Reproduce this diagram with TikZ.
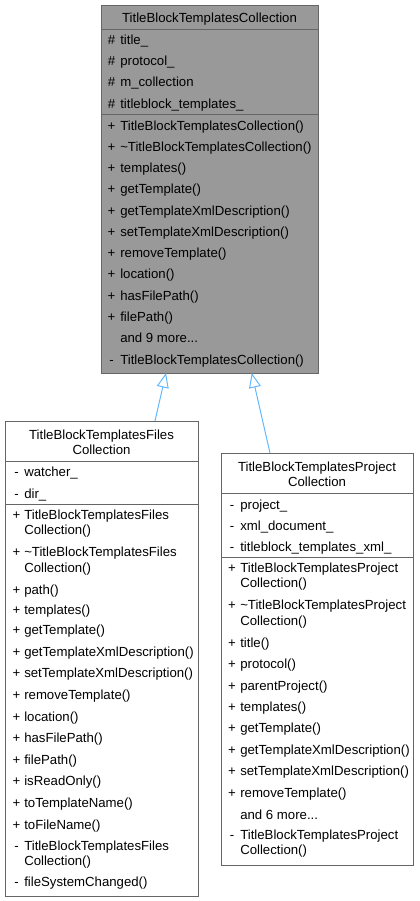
\documentclass[tikz,border=0pt]{standalone}
\usepackage{fontspec}
\setmainfont{Liberation Sans}
\usetikzlibrary{arrows.meta}
\definecolor{basefill}{HTML}{999999}
\definecolor{boxline}{HTML}{666666}
\definecolor{inheritblue}{HTML}{63B8FF}
\newcommand\etcdots{...}

\begin{document}
\begin{tikzpicture}[x=0.75pt,y=-0.75pt,
    font=\fontsize{9.9}{11.5}\selectfont,
    classbox/.style={draw=boxline, line width=0.75pt, anchor=north west, inner sep=0pt, outer sep=0pt},
    member/.style={anchor=base west, inner sep=0pt},
    marker/.style={anchor=base, inner sep=0pt},
    classname/.style={anchor=base, inner sep=0pt},
    inherit/.style={draw=inheritblue, line width=0.75pt, -{Triangle[open, length=11pt, width=9pt]}},
]
    \useasboundingbox (0,0) rectangle (419,901);

    % base class
    \node[classbox, fill=basefill, minimum width=162.75pt, minimum height=276pt] (base) at (101,5) {};
    \draw[boxline, line width=0.75pt] (base.west |- 0,29.3) -- (base.east |- 0,29.3);
    \draw[boxline, line width=0.75pt] (base.west |- 0,114.3) -- (base.east |- 0,114.3);
    \node[classname] (basename) at (209.5,22) {TitleBlockTemplatesCollection};
    \foreach \y/\m/\t [count=\i] in {44/\#/title\_, 65.3/\#/protocol\_, 86.6/\#/m\_collection, 108/\#/titleblock\_templates\_,
        130/+/TitleBlockTemplatesCollection(), 151.3/+/\textasciitilde TitleBlockTemplatesCollection(),
        172.5/+/templates(), 193.8/+/getTemplate(), 215.1/+/getTemplateXmlDescription(),
        236.4/+/setTemplateXmlDescription(), 257.6/+/removeTemplate(), 278.9/+/location(),
        300.2/+/hasFilePath(), 321.4/+/filePath(), 342.7//and 9 more\etcdots, 364/-/TitleBlockTemplatesCollection()}{
        \node[marker] (bm\i) at (111.5,\y) {\m};
        \node[member] (bt\i) at (120,\y) {\t};
    }

    % files collection
    \node[classbox, fill=white, minimum width=144.75pt, minimum height=356.8pt] (files) at (5,421) {};
    \draw[boxline, line width=0.75pt] (files.west |- 0,461) -- (files.east |- 0,461);
    \draw[boxline, line width=0.75pt] (files.west |- 0,504.3) -- (files.east |- 0,504.3);
    \node[classname] (filesname1) at (101.5,439) {TitleBlockTemplatesFiles};
    \node[classname] (filesname2) at (101.5,454.7) {Collection};
    \foreach \y/\m/\t [count=\i] in {476.7/-/watcher\_, 498/-/dir\_,
        519/+/TitleBlockTemplatesFiles, 534//Collection(),
        556.7/+/\textasciitilde TitleBlockTemplatesFiles, 572.3//Collection(),
        594/+/path(), 614.7/+/templates(), 634.7/+/getTemplate(),
        656.3/+/getTemplateXmlDescription(), 677.9/+/setTemplateXmlDescription(),
        699.5/+/removeTemplate(), 721.1/+/location(), 742.7/+/hasFilePath(),
        764.3/+/filePath(), 785.9/+/isReadOnly(), 807.5/+/toTemplateName(),
        829/+/toFileName(), 850.7/-/TitleBlockTemplatesFiles, 865.7//Collection(),
        886.5/-/fileSystemChanged()}{
        \node[marker] (fm\i) at (16.5,\y) {\m};
        \node[member] (ft\i) at (24,\y) {\t};
    }

    % project collection
    \node[classbox, fill=white, minimum width=144pt, minimum height=309pt] (project) at (221,453) {};
    \draw[boxline, line width=0.75pt] (project.west |- 0,493) -- (project.east |- 0,493);
    \draw[boxline, line width=0.75pt] (project.west |- 0,557) -- (project.east |- 0,557);
    \node[classname] (projectname1) at (317,471) {TitleBlockTemplatesProject};
    \node[classname] (projectname2) at (317,486.5) {Collection};
    \foreach \y/\m/\t [count=\i] in {509/-/project\_, 530.3/-/xml\_document\_, 551.6/-/titleblock\_templates\_xml\_,
        572/+/TitleBlockTemplatesProject, 587.5//Collection(),
        609.5/+/\textasciitilde TitleBlockTemplatesProject, 625//Collection(),
        647.5/+/title(), 668.8/+/protocol(), 690/+/parentProject(), 711.4/+/templates(),
        732.7/+/getTemplate(), 754/+/getTemplateXmlDescription(), 775.3/+/setTemplateXmlDescription(),
        797.3/+/removeTemplate(), 819//and 6 more\etcdots, 839.5/-/TitleBlockTemplatesProject,
        854.5//Collection()}{
        \node[marker] (pm\i) at (232,\y) {\m};
        \node[member] (pt\i) at (240,\y) {\t};
    }

    % inheritance
    \draw[inherit] ([xshift=40.1pt]files.north) -- ([xshift=-32.6pt]base.south);
    \draw[inherit] ([xshift=-35.25pt]project.north) -- ([xshift=31.65pt]base.south);
\end{tikzpicture}
\end{document}
